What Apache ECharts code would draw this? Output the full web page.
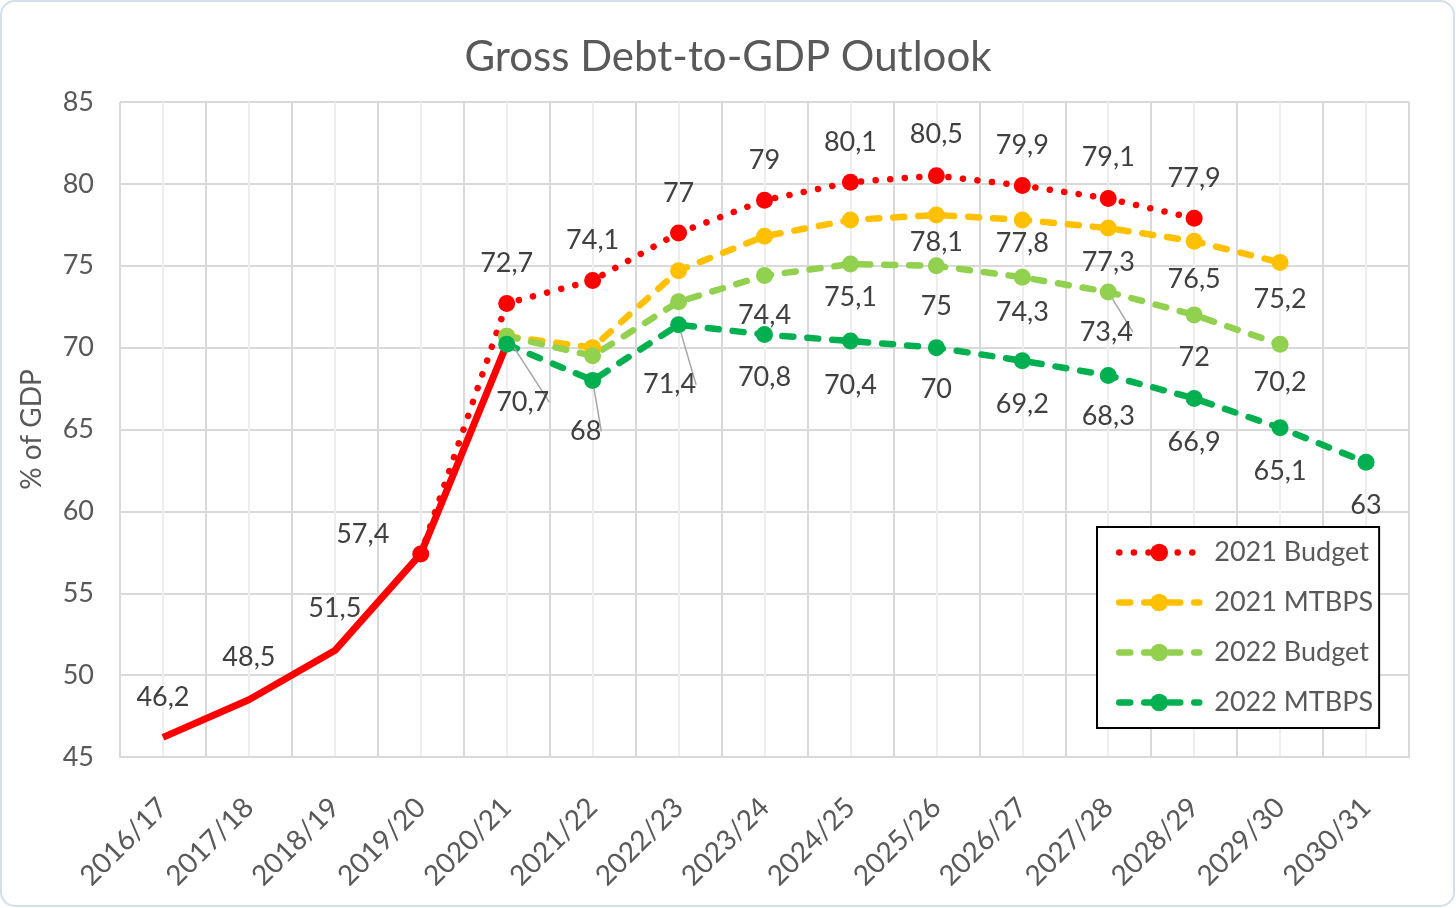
<!DOCTYPE html>
<html>
<head>
<meta charset="utf-8">
<script src="https://cdn.jsdelivr.net/npm/echarts@6/dist/echarts.min.js"></script>
<style>
  html, body { margin: 0; padding: 0; background: #fff; }
  #main { width: 1456px; height: 908px; }
</style>
</head>
<body>
<div id="main"></div>
<script>
// Gross Debt-to-GDP outlook, % of GDP
const years = ['2016/17', '2017/18', '2018/19', '2019/20', '2020/21', '2021/22', '2022/23', '2023/24',
  '2024/25', '2025/26', '2026/27', '2027/28', '2028/29', '2029/30', '2030/31']
const actual = [46.2, 48.5, 51.5, 57.4, 70.2, null, null, null, null, null, null, null, null, null, null]
const budget2021 = [null, null, null, 57.4, 72.7, 74.1, 77, 79, 80.1, 80.5, 79.9, 79.1, 77.9, null, null]
const mtbps2021 = [null, null, null, null, 70.7, 70, 74.7, 76.8, 77.8, 78.1, 77.8, 77.3, 76.5, 75.2, null]
const budget2022 = [null, null, null, null, 70.7, 69.5, 72.8, 74.4, 75.1, 75, 74.3, 73.4, 72, 70.2, null]
const mtbps2022 = [null, null, null, null, 70.2, 68, 71.4, 70.8, 70.4, 70, 69.2, 68.3, 66.9, 65.1, 63]
const yMin = 45
const yMax = 85
const yStep = 5

const FONT = 'Lato'
const TEXT = '#404040'
const GREY = '#595959'

// label offsets (px from the point) per index; third flag = leader line
const actualLabels = { 0: [0, -40], 1: [0, -42], 2: [0, -42] }
const budget2021Labels = { 3: [-58, -20, true], 4: [0, -40], 5: [0, -40], 6: [0, -40], 7: [0, -40], 8: [0, -40],
  9: [0, -41], 10: [0, -40], 11: [0, -41], 12: [0, -40] }
const mtbps2021Labels = { 4: [16, 66, true], 9: [0, 27], 10: [0, 23], 11: [0, 34], 12: [0, 38], 13: [0, 37] }
const budget2022Labels = { 7: [0, 40], 8: [0, 33], 9: [0, 41], 10: [0, 35], 11: [-2, 40, true], 12: [0, 42], 13: [0, 38] }
const mtbps2022Labels = { 5: [-7, 51, true], 6: [-9, 60, true], 7: [0, 43], 8: [0, 44], 9: [0, 42], 10: [0, 44],
  11: [0, 41], 12: [0, 44], 13: [0, 43], 14: [0, 43] }

function points (values, labels) {
  return values.map((v, i) => {
    const l = labels[i]
    if (!l) return { value: v }
    return {
      value: v,
      label: { show: true, position: 'inside', offset: [l[0], l[1]] },
      labelLine: { show: !!l[2] }
    }
  })
}

function makeSeries (name, values, labels, color, lineStyle, size) {
  return {
    name: name,
    type: 'line',
    xAxisIndex: 0,
    data: points(values, labels),
    symbol: 'circle',
    symbolSize: size,
    showSymbol: true,
    showAllSymbol: true,
    connectNulls: false,
    animation: false,
    itemStyle: { color: color },
    lineStyle: Object.assign({ color: color }, lineStyle),
    label: {
      show: false,
      color: TEXT,
      fontFamily: FONT,
      fontSize: 27,
      textBorderWidth: 0,
      textBorderColor: 'transparent',
      formatter: (p) => String(p.value).replace('.', ',')
    },
    labelLine: { show: false, lineStyle: { color: '#a6a6a6', width: 1.5 } },
    emphasis: { disabled: true }
  }
}

const dashed = { type: [11, 14], cap: 'round', width: 6.5 }
const dotted = { type: [0.1, 14.5], cap: 'round', width: 6.5 }

const myChart = echarts.init(document.getElementById('main'))
const options = {
  backgroundColor: '#ffffff',
  animation: false,
  graphic: [{
    type: 'rect',
    shape: { x: 1, y: 1, width: 1453, height: 905, r: 14 },
    style: { fill: 'none', stroke: '#d5dfeb', lineWidth: 2 },
    silent: true,
    z: -10
  }],
  title: {
    text: 'Gross Debt-to-GDP Outlook',
    left: 'center',
    top: 31,
    textStyle: { fontFamily: FONT, fontSize: 42, fontWeight: 'normal', color: GREY }
  },
  legend: {
    data: ['2021 Budget', '2021 MTBPS', '2022 Budget', '2022 MTBPS'],
    orient: 'vertical',
    left: 1097,
    top: 527,
    padding: [12, 6, 12, 19],
    itemGap: 23,
    itemWidth: 80,
    itemHeight: 22,
    backgroundColor: '#ffffff',
    borderColor: '#000000',
    borderWidth: 2,
    borderRadius: 0,
    lineStyle: { width: 6.5, cap: 'round' },
    textStyle: { fontFamily: FONT, fontSize: 27, color: GREY, padding: [0, 0, 0, 10] }
  },
  grid: { left: 120, right: 47, top: 102, bottom: 151, containLabel: false },
  xAxis: [{
    type: 'category',
    data: years,
    boundaryGap: true,
    axisLine: { show: true, lineStyle: { color: '#d9d9d9', width: 2 } },
    axisTick: { show: false },
    splitLine: { show: false },
    axisLabel: { interval: 0, rotate: 45, margin: 46, fontFamily: FONT, fontSize: 28, color: GREY }
  }, {
    type: 'value',
    min: 0,
    max: years.length,
    interval: 1,
    show: true,
    position: 'top',
    axisLine: { show: false },
    axisTick: { show: false },
    axisLabel: { show: false },
    splitLine: { show: true, lineStyle: { color: '#d9d9d9', width: 2 } },
    minorTick: { show: false, splitNumber: 2 },
    minorSplitLine: { show: true, lineStyle: { color: '#eeeeee', width: 2 } }
  }],
  yAxis: {
    type: 'value',
    min: yMin,
    max: yMax,
    interval: yStep,
    name: '% of GDP',
    nameLocation: 'middle',
    nameGap: 74,
    nameTextStyle: { fontFamily: FONT, fontSize: 28, color: GREY },
    axisLine: { show: false },
    axisTick: { show: false },
    axisLabel: { margin: 26, fontFamily: FONT, fontSize: 27, color: GREY },
    splitLine: { show: true, lineStyle: { color: '#d9d9d9', width: 2 } }
  },
  series: [
    makeSeries('Actual', actual, actualLabels, '#ff0000', { type: 'solid', width: 7 }, 0.01),
    makeSeries('2021 Budget', budget2021, budget2021Labels, '#ff0000', dotted, 17),
    makeSeries('2021 MTBPS', mtbps2021, mtbps2021Labels, '#ffc000', dashed, 17),
    makeSeries('2022 Budget', budget2022, budget2022Labels, '#92d050', dashed, 17),
    makeSeries('2022 MTBPS', mtbps2022, mtbps2022Labels, '#00b050', dashed, 17)
  ]
}
myChart.setOption(options)
</script>
</body>
</html>
